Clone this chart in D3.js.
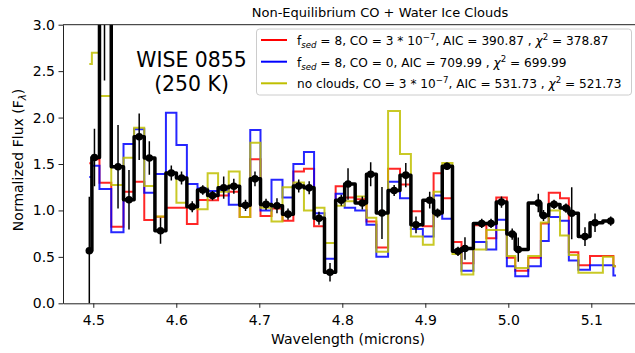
<!DOCTYPE html>
<html>
<head>
<meta charset="utf-8">
<script src="https://cdn.jsdelivr.net/npm/d3@7"></script>
<style>
  body { margin: 0; background: #fff; }
  svg { display: block; font-family: "DejaVu Sans", sans-serif; }
</style>
</head>
<body>
<svg id="chart" width="635" height="353"></svg>
<script>
// Observed spectrum (microns), binned flux and 1-sigma errors
const wavelength = [
  4.4952, 4.5014, 4.5135, 4.5298, 4.5430, 4.5553, 4.5675, 4.5810, 4.5940, 4.6063,
  4.6192, 4.6319, 4.6436, 4.6571, 4.6693, 4.6834, 4.6948, 4.7081, 4.7213, 4.7346,
  4.7475, 4.7601, 4.7719, 4.7852, 4.7988, 4.8069, 4.8241, 4.8342, 4.8478, 4.8625,
  4.8765, 4.8888, 4.9053, 4.9147, 4.9261, 4.9394, 4.9478, 4.9680, 4.9792, 4.9918,
  5.0047, 5.0120, 5.0361, 5.0424, 5.0551, 5.0695, 5.0764, 5.0924, 5.1045, 5.1234
];
const flux = [
  0.566, 1.57, 3.4, 1.47, 1.115, 1.793, 1.565, 0.782, 1.403, 1.35,
  1.04, 1.22, 1.16, 1.245, 1.26, 1.055, 1.34, 1.065, 1.05, 0.96,
  1.262, 1.243, 0.915, 0.335, 1.11, 1.284, 1.08, 1.39, 0.972, 1.215,
  1.38, 0.845, 1.11, 0.972, 1.475, 0.56, 0.59, 0.86, 0.86, 1.09,
  0.745, 0.578, 1.08, 0.945, 1.065, 1.025, 0.97, 0.718, 0.868, 0.886
];
const fluxErr = [
  0.58, 0.31, 1.0, 0.45, 0.32, 0.25, 0.18, 0.14, 0.08, 0.07,
  0.06, 0.05, 0.05, 0.12, 0.08, 0.06, 0.08, 0.06, 0.08, 0.06,
  0.07, 0.07, 0.07, 0.1, 0.06, 0.17, 0.07, 0.13, 0.28, 0.06,
  0.13, 0.09, 0.09, 0.05, 0.04, 0.05, 0.12, 0.05, 0.05, 0.06,
  0.06, 0.13, 0.1, 0.06, 0.05, 0.05, 0.28, 0.1, 0.1, 0.05
];

// Model grid: same bins plus one trailing bin
const modelWavelength = wavelength.concat([5.1298]);
const cloudyCO = [
  1.507, 1.55, 1.298, 0.825, 1.201, 1.309, 0.897, 0.932, 1.029, 1.029,
  0.854, 1.112, 1.11, 1.16, 1.2, 0.93, 1.55, 0.94, 1.02, 0.89,
  1.42, 1.45, 0.83, 0.34, 1.26, 1.14, 1.12, 0.88, 0.60, 1.45,
  1.28, 0.99, 0.83, 1.40, 1.13, 0.66, 0.43, 0.84, 0.70, 1.14,
  0.49, 0.35, 0.49, 0.86, 1.19, 1.13, 0.55, 0.41, 0.51, 0.51, 0.40
];
const cloudyNoCO = [
  1.36, 1.48, 1.23, 0.764, 1.715, 1.873, 1.191, 1.392, 2.052, 1.704,
  1.284, 1.238, 1.21, 1.22, 1.06, 1.06, 1.866, 1.0, 1.33, 1.14,
  1.5, 1.63, 0.97, 0.48, 1.18, 1.03, 1.0, 0.845, 0.50, 1.31,
  1.13, 0.8, 0.72, 1.16, 0.91, 0.57, 0.35, 0.66, 0.58, 0.90,
  0.40, 0.29, 0.40, 0.67, 0.93, 0.89, 0.46, 0.36, 0.41, 0.41, 0.30
];
const clearCO = [
  2.576, 2.698, 2.231, 1.273, 1.567, 1.89, 1.263, 0.935, 1.399, 1.083,
  1.033, 1.012, 1.40, 1.2, 1.42, 0.93, 1.73, 1.03, 0.88, 1.25,
  1.3, 1.0, 1.03, 0.65, 1.05, 1.1, 1.15, 0.92, 0.555, 2.07,
  1.607, 0.72, 0.63, 1.20, 1.51, 0.53, 0.31, 0.58, 0.79, 0.79,
  0.51, 0.38, 0.51, 0.87, 1.0, 0.73, 0.52, 0.33, 0.33, 0.50, 0.40
];

const xTicks = [4.5, 4.6, 4.7, 4.8, 4.9, 5.0, 5.1];
const yTicks = [0.0, 0.5, 1.0, 1.5, 2.0, 2.5, 3.0];

// Legend label pieces: plain text, subscript, superscript, italic
const legendRows = [
  { color: "#ff0000", parts: [["f"], ["sed", "sub"], [" = 8, CO = 3 * 10"], ["\u22127", "sup"],
      [", AIC = 390.87 , "], ["\u03c7", "it"], ["2", "sup"], [" = 378.87"]] },
  { color: "#0000ff", parts: [["f"], ["sed", "sub"], [" = 8, CO = 0, AIC = 709.99 , "],
      ["\u03c7", "it"], ["2", "sup"], [" = 699.99"]] },
  { color: "#bfbf00", parts: [["no clouds, CO = 3 * 10"], ["\u22127", "sup"],
      [", AIC = 531.73 , "], ["\u03c7", "it"], ["2", "sup"], [" = 521.73"]] }
];

const models = [
  { values: cloudyCO, color: "#ff0000" },
  { values: cloudyNoCO, color: "#0000ff" },
  { values: clearCO, color: "#bfbf00" }
];

const X0 = 63, X1 = 640, Y0 = 24.7, Y1 = 303.3;
const x = d3.scaleLinear().domain([4.4635, 5.15867]).range([X0, X1]);
const y = d3.scaleLinear().domain([0, 3]).range([Y1, Y0]);

const svg = d3.select("#chart");

svg.append("defs").append("clipPath").attr("id", "plot-clip")
  .append("rect").attr("x", X0).attr("y", Y0)
  .attr("width", X1 - X0).attr("height", Y1 - Y0);

const plot = svg.append("g").attr("clip-path", "url(#plot-clip)");
const stepLine = d3.line().curve(d3.curveStep);

// Model spectra
models.forEach(m => {
  plot.append("path")
    .datum(m.values.map((v, i) => [x(modelWavelength[i]), y(v)]))
    .attr("d", stepLine)
    .attr("fill", "none")
    .attr("stroke", m.color)
    .attr("stroke-opacity", 0.85)
    .attr("stroke-width", 2);
});

// Observed spectrum
plot.append("path")
  .datum(flux.map((v, i) => [x(wavelength[i]), y(v)]))
  .attr("d", stepLine)
  .attr("fill", "none")
  .attr("stroke", "#000")
  .attr("stroke-width", 3.5)
  .attr("stroke-linejoin", "round");

plot.selectAll("line.err").data(flux).enter().append("line")
  .attr("class", "err")
  .attr("x1", (d, i) => x(wavelength[i]))
  .attr("x2", (d, i) => x(wavelength[i]))
  .attr("y1", (d, i) => y(d - fluxErr[i]))
  .attr("y2", (d, i) => y(d + fluxErr[i]))
  .attr("stroke", "#000")
  .attr("stroke-width", 1.5);

plot.selectAll("circle.pt").data(flux).enter().append("circle")
  .attr("class", "pt")
  .attr("cx", (d, i) => x(wavelength[i]))
  .attr("cy", d => y(d))
  .attr("r", 3.8)
  .attr("fill", "#000");

// Axes
const xAxis = svg.append("g")
  .attr("transform", `translate(0,${Y1})`)
  .call(d3.axisBottom(x).tickValues(xTicks).tickFormat(d3.format(".1f"))
    .tickSize(4.5).tickPadding(7.5).tickSizeOuter(0));
const yAxis = svg.append("g")
  .attr("transform", `translate(${X0},0)`)
  .call(d3.axisLeft(y).tickValues(yTicks).tickFormat(d3.format(".1f"))
    .tickSize(4.5).tickPadding(3.5).tickSizeOuter(0));
[xAxis, yAxis].forEach(g => {
  g.selectAll("text").attr("font-size", 14).attr("fill", "#000")
    .attr("font-family", "DejaVu Sans, sans-serif");
  g.selectAll("line").attr("stroke", "#222");
  g.select(".domain").attr("stroke", "#222");
});
svg.append("line").attr("x1", X0).attr("x2", X1).attr("y1", Y0).attr("y2", Y0)
  .attr("stroke", "#222");
svg.append("line").attr("x1", X1).attr("x2", X1).attr("y1", Y0).attr("y2", Y1)
  .attr("stroke", "#222");

// Titles and labels
svg.append("text").attr("x", 380).attr("y", 16.5).attr("text-anchor", "middle")
  .attr("font-size", 13).text("Non-Equilibrium CO + Water Ice Clouds");

svg.append("text").attr("x", 348).attr("y", 344).attr("text-anchor", "middle")
  .attr("font-size", 14).text("Wavelength (microns)");

const yl = svg.append("text").attr("transform", "translate(23,160) rotate(-90)")
  .attr("text-anchor", "middle").attr("font-size", 14);
yl.append("tspan").text("Normalized Flux (F");
yl.append("tspan").attr("font-size", 10).attr("dy", 3).attr("font-style", "italic").text("\u03bb");
yl.append("tspan").attr("dy", -3).text(")");

const obj = svg.append("text").attr("text-anchor", "middle").attr("font-size", 20.4);
obj.append("tspan").attr("x", 191.5).attr("y", 66.5).text("WISE 0855");
obj.append("tspan").attr("x", 191.5).attr("y", 90.5).text("(250 K)");

// Legend
const lg = svg.append("g");
lg.append("rect").attr("x", 256.5).attr("y", 29).attr("width", 375).attr("height", 66)
  .attr("rx", 3).attr("fill", "#fff").attr("fill-opacity", 0.8)
  .attr("stroke", "#cccccc").attr("stroke-width", 1);

const rowY = [40, 61.7, 83.3];
legendRows.forEach((row, r) => {
  lg.append("line").attr("x1", 261).attr("x2", 287).attr("y1", rowY[r]).attr("y2", rowY[r])
    .attr("stroke", row.color).attr("stroke-width", 2);
  const t = lg.append("text").attr("x", 297).attr("y", rowY[r] + 4.8).attr("font-size", 12.15);
  let shift = 0;
  row.parts.forEach(([s, kind]) => {
    const sp = t.append("tspan").text(s);
    let target = 0;
    if (kind === "sub") { target = 3; sp.attr("font-size", 8.6).attr("font-style", "italic"); }
    else if (kind === "sup") { target = -5; sp.attr("font-size", 8.6); }
    else if (kind === "it") { sp.attr("font-style", "italic"); }
    if (target !== shift) { sp.attr("dy", target - shift); shift = target; }
  });
});
</script>
</body>
</html>
